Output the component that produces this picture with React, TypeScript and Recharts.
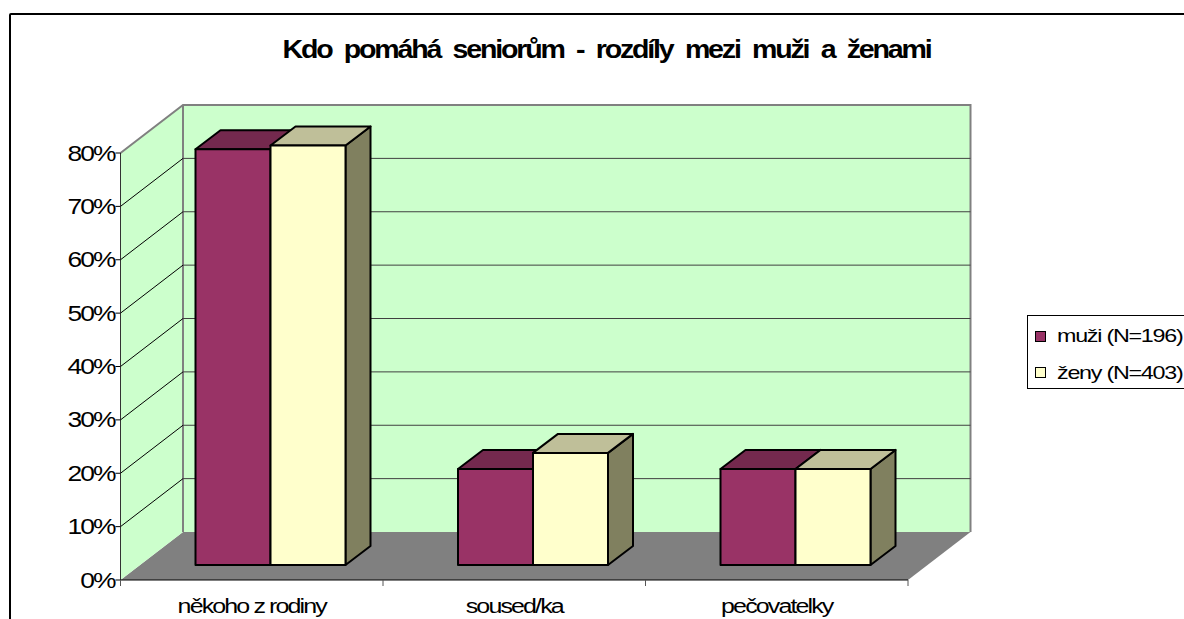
import { BarChart, Bar, XAxis, YAxis, CartesianGrid, Legend, usePlotArea } from "recharts";

const categories = ["někoho z rodiny", "soused/ka", "pečovatelky"];
const muzi = [77.9, 18, 18];
const zeny = [78.6, 21, 18];
const yTicks = [0, 10, 20, 30, 40, 50, 60, 70, 80];
const seriesNames = ["muži (N=196)", "ženy (N=403)"];

const data = categories.map((name, i) => ({ name, muzi: muzi[i], zeny: zeny[i] }));

// oblique offset of the back wall, and of the bars off the front edge
const WALL_DX = 62.5;
const WALL_DY = -48;
const BAR_DX = 19;
const BAR_DY = -15;
const DEPTH_DX = 25;
const DEPTH_DY = -19;
const FONT = "'Liberation Sans', Arial, sans-serif";

const Walls = () => {
  const plot = usePlotArea();
  if (!plot) return null;
  const { x, y, width, height } = plot;
  const b = y + height;
  const pts = (arr: number[][]) => arr.map((p) => p.join(",")).join(" ");
  return (
    <g>
      <polygon
        points={pts([[x, b], [x + width, b], [x + width + WALL_DX, b + WALL_DY], [x + WALL_DX, b + WALL_DY]])}
        fill="#808080"
      />
      <polygon
        points={pts([[x, b], [x, y], [x + WALL_DX, y + WALL_DY], [x + WALL_DX, b + WALL_DY]])}
        fill="#CCFFCC"
      />
      <rect x={x + WALL_DX} y={y + WALL_DY} width={width} height={height} fill="#CCFFCC" />
      <polyline
        points={pts([[x, y], [x + WALL_DX, y + WALL_DY], [x + width + WALL_DX, y + WALL_DY], [x + width + WALL_DX, b + WALL_DY]])}
        fill="none"
        stroke="#808080"
        strokeWidth={2}
      />
      <line x1={x + WALL_DX} y1={y + WALL_DY} x2={x + WALL_DX} y2={b + WALL_DY} stroke="#808080" strokeWidth={2} />
    </g>
  );
};

const gridLine = (props: any) => {
  const { x1, y1, x2, key } = props;
  if (y1 > 570 || y1 < 160) return <g key={key} />;
  return (
    <g key={key}>
      <line x1={x1} y1={y1} x2={x1 + WALL_DX} y2={y1 + WALL_DY} stroke="#000" />
      <line x1={x1 + WALL_DX} y1={y1 + WALL_DY} x2={x2 + WALL_DX} y2={y1 + WALL_DY} stroke="#404040" />
    </g>
  );
};

const Bar3D = (top: string, side: string) => (props: any) => {
  const { x, y, width, height, fill } = props;
  const l = x + BAR_DX;
  const r = l + width;
  const t = y + BAR_DY;
  const b = t + height;
  const stroke = { stroke: "#000", strokeWidth: 2, strokeLinejoin: "round" as const };
  return (
    <g>
      <polygon
        points={`${r},${t} ${r + DEPTH_DX},${t + DEPTH_DY} ${r + DEPTH_DX},${b + DEPTH_DY} ${r},${b}`}
        fill={side}
        {...stroke}
      />
      <polygon
        points={`${l},${t} ${l + DEPTH_DX},${t + DEPTH_DY} ${r + DEPTH_DX},${t + DEPTH_DY} ${r},${t}`}
        fill={top}
        {...stroke}
      />
      <rect x={l} y={t} width={width} height={height} fill={fill} {...stroke} />
    </g>
  );
};

// the source text is stretched sideways with tight letters, so scale it in x
const CategoryTick = (props: any) => {
  const { x, y, payload, index } = props;
  const band = 787.5 / categories.length;
  const last = index === categories.length - 1;
  return (
    <g>
      <line x1={x - band / 2} y1={y - 8} x2={x - band / 2} y2={y - 2} stroke="#555" />
      {last && <line x1={x + band / 2} y1={y - 8} x2={x + band / 2} y2={y - 2} stroke="#555" />}
      <text
        transform={`translate(${x},${y + 25}) scale(1.25,1)`}
        textAnchor="middle"
        fontFamily={FONT}
        fontSize={20}
        letterSpacing={-1.5}
        fill="#000"
      >
        {payload.value}
      </text>
    </g>
  );
};

const ValueTick = (props: any) => {
  const { x, y, payload } = props;
  return (
    <text
      transform={`translate(${x - 1},${y + 7.5}) scale(1.2,1)`}
      textAnchor="end"
      fontFamily={FONT}
      fontSize={22}
      letterSpacing={-1.6}
      fill="#000"
    >
      {`${payload.value}%`}
    </text>
  );
};

const LegendBox = ({ payload }: any) => (
  <div
    style={{
      border: "1px solid #000",
      width: 170,
      height: 74,
      boxSizing: "border-box",
      paddingTop: 2,
      fontFamily: FONT,
      fontSize: 18.5,
      letterSpacing: -1,
      background: "#fff",
    }}
  >
    {(payload || []).map((item: any) => (
      <div key={item.value} style={{ display: "flex", alignItems: "center", height: 36.5, paddingLeft: 7 }}>
        <span
          style={{
            width: 9,
            height: 9,
            border: "1px solid #000",
            background: item.color,
            marginRight: 11,
            display: "inline-block",
          }}
        />
        <span style={{ display: "inline-block", whiteSpace: "nowrap", transform: "scaleX(1.26)", transformOrigin: "left center" }}>
          {item.value}
        </span>
      </div>
    ))}
  </div>
);

export default function App() {
  return (
    <div style={{ position: "absolute", left: 0, top: 0, width: 1184, height: 619, overflow: "hidden", background: "#fff" }}>
      <div
        style={{
          position: "absolute",
          left: 9,
          top: 13,
          width: 1400,
          height: 900,
          border: "2px solid #000",
          borderRadius: 2,
        }}
      />
      <div
        style={{
          position: "absolute",
          left: 0,
          width: 1213,
          top: 36,
          textAlign: "center",
          fontFamily: FONT,
          fontWeight: "bold",
          fontSize: 26,
          letterSpacing: -2,
          wordSpacing: 6,
          lineHeight: "26px",
          whiteSpace: "nowrap",
          transform: "scaleX(1.1)",
        }}
      >
        Kdo pomáhá seniorům - rozdíly mezi muži a ženami
      </div>
      <div style={{ position: "absolute", left: 0, top: 0 }}>
        <BarChart
          width={1184}
          height={619}
          data={data}
          margin={{ top: 153, right: 106, left: 60.5, bottom: 0 }}
          barCategoryGap={56}
          barGap={0}
        >
          <Walls />
          <CartesianGrid vertical={false} horizontal={gridLine} zIndex={1} />
          <XAxis
            dataKey="name"
            height={39}
            interval={0}
            axisLine={{ stroke: "#000" }}
            tickLine={false}
            tick={CategoryTick}
          />
          <YAxis
            width={60}
            domain={[0, 80]}
            ticks={yTicks}
            interval={0}
            axisLine={{ stroke: "#333" }}
            tickLine={{ stroke: "#000" }}
            tickSize={5}
            tickMargin={0}
            tick={ValueTick}
          />
          <Bar dataKey="muzi" name={seriesNames[0]} fill="#993366" isAnimationActive={false} shape={Bar3D("#74294E", "#74294E")} />
          <Bar dataKey="zeny" name={seriesNames[1]} fill="#FFFFCC" isAnimationActive={false} shape={Bar3D("#BFBF99", "#80805F")} />
          <Legend
            layout="vertical"
            align="right"
            verticalAlign="top"
            content={LegendBox}
            wrapperStyle={{ left: 1027, top: 315, right: "auto", width: 170 }}
          />
        </BarChart>
      </div>
    </div>
  );
}
